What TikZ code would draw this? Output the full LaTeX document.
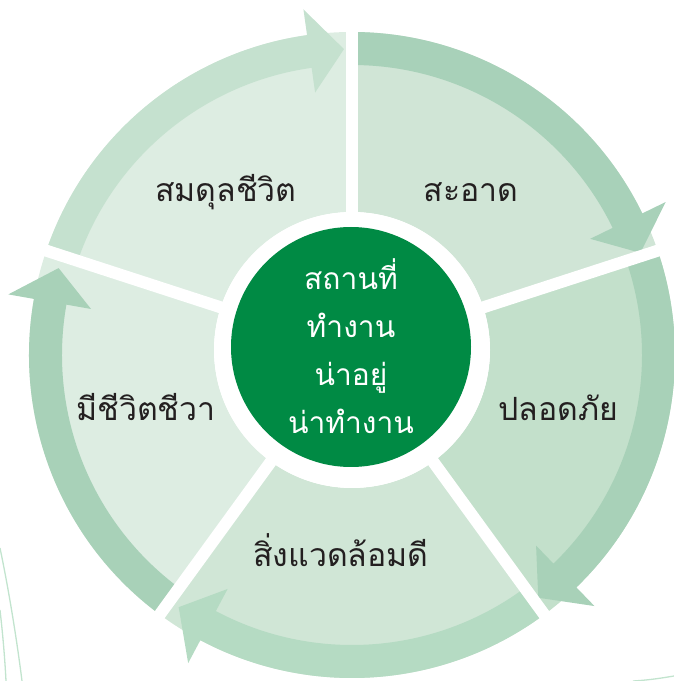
\documentclass[tikz,border=0pt]{standalone}
\usepackage{fontspec}
\newfontfamily\thai[Script=Thai]{Loma}
\usetikzlibrary{calc}
\definecolor{gcenter}{HTML}{008A44}
\definecolor{txt}{HTML}{231F20}
\definecolor{secA}{HTML}{DDEDE2}
\definecolor{secB}{HTML}{D0E5D6}
\definecolor{secC}{HTML}{C3E0CB}
\definecolor{secD}{HTML}{D0E6D6}
\definecolor{secE}{HTML}{DDEDE2}
\definecolor{bandA}{HTML}{C5E1CF}
\definecolor{bandB}{HTML}{A8D1B9}
\definecolor{bandC}{HTML}{A8D1B8}
\definecolor{bandD}{HTML}{B5DBC3}
\definecolor{bandE}{HTML}{A8D1B8}
\definecolor{faint}{HTML}{C2E4CE}
\newcommand\mysector[3]{%
  \fill[#3] ($(Ci)+(#1:138)$) -- ($(Co)+(#1:323)$)
    arc[start angle=#1, end angle=#2, radius=323]
    -- ($(Ci)+(#2:138)$)
    arc[start angle=#2, end angle=#1, radius=138] -- cycle;}
\newcommand\myband[3]{%
  \pgfmathsetmacro\mybhb{#2+8}%
  \pgfmathsetmacro\mybtp{#2+1.5}%
  \fill[#3] ($(Co)+(#1:290)$)
    arc[start angle=#1, end angle=\mybhb, radius=290]
    -- ($(Co)+(\mybhb:265)$) -- ($(Co)+(\mybtp:306)$)
    -- ($(Co)+(\mybhb:349)$) -- ($(Co)+(\mybhb:323)$)
    arc[start angle=\mybhb, end angle=#1, radius=323] -- cycle;}
\tikzset{
  lbl/.style={text=txt, font=\thai\fontsize{32}{38}\selectfont, inner sep=0pt},
  ctr/.style={text=white, align=center, font=\thai\fontsize{30}{48}\selectfont, inner sep=0pt},
  gapline/.style={white, line width=12pt},
  faintline/.style={faint, line width=1.3pt}
}
\begin{document}
\begin{tikzpicture}[x=1pt,y=1pt]
\useasboundingbox (0,0) rectangle (674,681);
\coordinate (Ci) at (352,331);
\coordinate (Co) at (352,326);
\coordinate (Cg) at (351,334);
% sectors
\mysector{162}{90}{secA}
\mysector{90}{18}{secB}
\mysector{18}{-54}{secC}
\mysector{-54}{-126}{secD}
\mysector{-126}{-198}{secE}
% arrow bands
\myband{162}{90}{bandA}
\myband{90}{18}{bandB}
\myband{18}{-54}{bandC}
\myband{-54}{-126}{bandD}
\myband{-126}{-198}{bandE}
% gaps
\foreach \g in {90,18,-54,-126,162} \draw[gapline] (Ci) -- ($(Ci)+(\g:380)$);
\fill[white] (Ci) circle (138);
% centre
\fill[gcenter] (Cg) circle (120);
\node[ctr] (centre) at (351,335) {สถานที่\\ทำงาน\\น่าอยู่\\น่าทำงาน};
% labels
\node[lbl] (l1) at (226,489) {สมดุลชีวิต};
\node[lbl] (l2) at (471,489) {สะอาด};
\node[lbl] (l3) at (558,273) {ปลอดภัย};
\node[lbl] (l4) at (341,131) {สิ่งแวดล้อมดี};
\node[lbl] (l5) at (146,274) {มีชีวิตชีวา};
% faint decorative curves
\draw[faintline] (0,133) .. controls (9,90) and (17,40) .. (22,0);
\draw[faintline] (0,71) .. controls (3,45) and (5,20) .. (6,0);
\draw[faintline] (633,0) .. controls (650,1) and (662,3) .. (674,5);
\end{tikzpicture}
\end{document}
